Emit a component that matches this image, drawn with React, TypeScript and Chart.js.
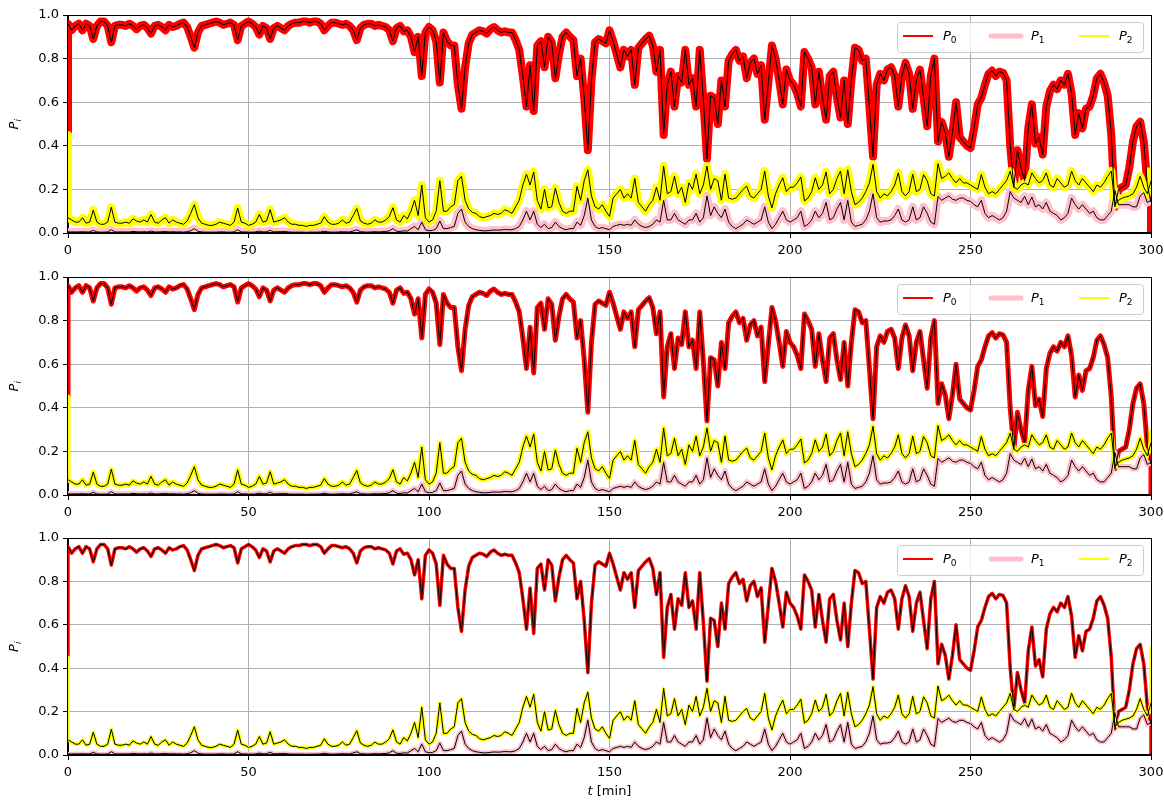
import { useEffect, useRef } from "react";
import { Chart, registerables } from "chart.js";

Chart.register(...registerables);

// Time axis: one sample per minute starting at t = 0.
const T_START = 0;
const T_STEP = 1;

// True occupation probabilities (black traces), t = 0 .. 300 min.
const P0_TRUE = [
  0.96, 0.93, 0.95, 0.96, 0.93, 0.96, 0.95, 0.89, 0.95, 0.97,
  0.97, 0.95, 0.875, 0.95, 0.955, 0.955, 0.95, 0.96, 0.95, 0.935,
  0.95, 0.955, 0.94, 0.915, 0.95, 0.955, 0.945, 0.93, 0.955, 0.945,
  0.95, 0.96, 0.965, 0.945, 0.9, 0.85, 0.92, 0.95, 0.955, 0.96,
  0.965, 0.97, 0.965, 0.955, 0.96, 0.965, 0.955, 0.885, 0.95, 0.96,
  0.97, 0.96, 0.945, 0.91, 0.95, 0.94, 0.89, 0.94, 0.95, 0.94,
  0.93, 0.95, 0.96, 0.965, 0.965, 0.97, 0.97, 0.965, 0.97, 0.97,
  0.96, 0.93, 0.95, 0.965, 0.965, 0.96, 0.955, 0.96, 0.95, 0.93,
  0.885, 0.94, 0.955, 0.96, 0.96, 0.95, 0.955, 0.95, 0.945, 0.93,
  0.88, 0.94, 0.95, 0.925, 0.93, 0.9, 0.83, 0.9, 0.72, 0.92,
  0.945, 0.93, 0.88, 0.69, 0.92, 0.88, 0.86, 0.86, 0.68, 0.57,
  0.76, 0.87, 0.91, 0.92, 0.93, 0.925, 0.915, 0.935, 0.945, 0.93,
  0.92, 0.925, 0.92, 0.92, 0.885, 0.84, 0.72, 0.58, 0.77, 0.56,
  0.86, 0.88, 0.76, 0.9, 0.875, 0.71, 0.82, 0.9, 0.92, 0.9,
  0.885, 0.72, 0.8, 0.62, 0.38, 0.7, 0.875, 0.89, 0.88, 0.87,
  0.93, 0.88, 0.82, 0.76, 0.84, 0.81, 0.84, 0.68, 0.85, 0.87,
  0.89, 0.905, 0.86, 0.74, 0.84, 0.45, 0.68, 0.74, 0.58, 0.72,
  0.69, 0.84, 0.68, 0.71, 0.58, 0.84, 0.61, 0.34, 0.63, 0.62,
  0.5, 0.7, 0.58, 0.79, 0.82, 0.84, 0.79, 0.81, 0.71, 0.78,
  0.8, 0.73, 0.77, 0.52, 0.69, 0.86, 0.8, 0.7, 0.59, 0.75,
  0.7, 0.68, 0.64, 0.58, 0.83, 0.8, 0.76, 0.59, 0.74, 0.62,
  0.52, 0.72, 0.74, 0.62, 0.53, 0.7, 0.5, 0.7, 0.85, 0.84,
  0.79, 0.8, 0.58, 0.35, 0.68, 0.73, 0.7, 0.75, 0.76, 0.72,
  0.58, 0.72, 0.78, 0.73, 0.57, 0.7, 0.75, 0.62, 0.49, 0.72,
  0.8, 0.42, 0.51, 0.46, 0.35, 0.46, 0.6, 0.44, 0.42, 0.4,
  0.39, 0.48, 0.59, 0.62, 0.68, 0.73, 0.745, 0.72, 0.74, 0.735,
  0.7, 0.4, 0.21, 0.38, 0.3, 0.24, 0.48, 0.59, 0.41, 0.44,
  0.36, 0.58, 0.65, 0.68, 0.66, 0.7, 0.68, 0.73, 0.64, 0.45,
  0.55, 0.48, 0.57, 0.58, 0.63, 0.71, 0.73, 0.69, 0.63, 0.45,
  0.12, 0.2, 0.21, 0.22, 0.3, 0.42, 0.49, 0.51, 0.42, 0.22,
  0.14,
];

const P1_TRUE = [
  0.005, 0.005, 0.005, 0.005, 0.006, 0.005, 0.005, 0.012, 0.005, 0.004,
  0.004, 0.005, 0.015, 0.005, 0.005, 0.005, 0.005, 0.005, 0.007, 0.006,
  0.005, 0.006, 0.005, 0.009, 0.005, 0.005, 0.006, 0.007, 0.005, 0.006,
  0.005, 0.005, 0.004, 0.006, 0.01, 0.02, 0.008, 0.005, 0.004, 0.004,
  0.004, 0.004, 0.005, 0.005, 0.004, 0.004, 0.005, 0.015, 0.005, 0.005,
  0.004, 0.004, 0.005, 0.009, 0.005, 0.006, 0.012, 0.005, 0.006, 0.006,
  0.007, 0.005, 0.004, 0.004, 0.004, 0.004, 0.003, 0.004, 0.004, 0.004,
  0.005, 0.008, 0.005, 0.004, 0.004, 0.005, 0.006, 0.005, 0.005, 0.009,
  0.015, 0.006, 0.005, 0.004, 0.005, 0.006, 0.005, 0.006, 0.007, 0.01,
  0.02, 0.008, 0.007, 0.01, 0.009, 0.02, 0.03, 0.015, 0.05, 0.015,
  0.01, 0.012, 0.02, 0.055, 0.02, 0.02, 0.025, 0.03, 0.09, 0.11,
  0.05, 0.03, 0.02, 0.015, 0.012, 0.01, 0.01, 0.012, 0.014, 0.013,
  0.014, 0.016, 0.015, 0.015, 0.02, 0.03, 0.06, 0.1, 0.06, 0.1,
  0.04, 0.025, 0.04, 0.02, 0.025, 0.05, 0.03, 0.02, 0.015, 0.02,
  0.02, 0.05, 0.035, 0.08, 0.16, 0.06, 0.03, 0.02, 0.025, 0.02,
  0.015, 0.03, 0.035, 0.04, 0.035, 0.04, 0.035, 0.06, 0.04, 0.03,
  0.025, 0.03, 0.04, 0.06, 0.05, 0.15, 0.06, 0.06, 0.09, 0.06,
  0.05, 0.04, 0.06, 0.06, 0.09, 0.05, 0.07, 0.17, 0.08, 0.12,
  0.09, 0.07, 0.11, 0.05, 0.03, 0.02, 0.03, 0.04, 0.06, 0.05,
  0.04, 0.05, 0.06, 0.12, 0.05, 0.02, 0.04, 0.07, 0.1, 0.06,
  0.05, 0.06, 0.07, 0.1, 0.03, 0.04, 0.06, 0.1, 0.07, 0.09,
  0.14, 0.06, 0.07, 0.11, 0.14, 0.06, 0.15, 0.05, 0.03, 0.035,
  0.04, 0.06, 0.1, 0.18, 0.07, 0.05, 0.055, 0.055, 0.06, 0.08,
  0.11, 0.06, 0.05, 0.06, 0.12, 0.06, 0.07, 0.12, 0.09, 0.05,
  0.04, 0.168, 0.15, 0.16, 0.17, 0.155, 0.15, 0.16, 0.16, 0.15,
  0.145, 0.13, 0.12, 0.15, 0.09, 0.07, 0.08, 0.07, 0.06, 0.07,
  0.1, 0.19, 0.16, 0.15, 0.14, 0.168, 0.13, 0.165, 0.12, 0.13,
  0.11, 0.14, 0.1, 0.09, 0.08, 0.06, 0.07, 0.09, 0.16, 0.13,
  0.11, 0.13, 0.11, 0.09, 0.1, 0.07, 0.06, 0.06, 0.08, 0.1,
  0.195, 0.13, 0.13, 0.13, 0.13, 0.12, 0.12, 0.17, 0.185, 0.14,
  0.15,
];

const P2_TRUE = [
  0.07, 0.06, 0.05, 0.05, 0.07, 0.045, 0.05, 0.105, 0.05, 0.04,
  0.04, 0.05, 0.118, 0.05, 0.045, 0.045, 0.05, 0.045, 0.065, 0.055,
  0.05, 0.06, 0.05, 0.085, 0.05, 0.045, 0.06, 0.07, 0.045, 0.06,
  0.05, 0.045, 0.04, 0.055, 0.09, 0.13, 0.07, 0.045, 0.04, 0.035,
  0.035, 0.04, 0.05, 0.045, 0.04, 0.035, 0.05, 0.115, 0.05, 0.045,
  0.035, 0.04, 0.05, 0.085, 0.05, 0.055, 0.107, 0.05, 0.055, 0.06,
  0.07, 0.05, 0.04, 0.04, 0.035, 0.035, 0.03, 0.035, 0.035, 0.04,
  0.045, 0.075, 0.05, 0.04, 0.04, 0.045, 0.06, 0.045, 0.05, 0.08,
  0.112, 0.055, 0.045, 0.04, 0.045, 0.06, 0.05, 0.05, 0.06, 0.075,
  0.116, 0.06, 0.05, 0.08, 0.065, 0.1, 0.15, 0.08, 0.22, 0.07,
  0.05, 0.06, 0.1, 0.24, 0.1, 0.1, 0.12, 0.13, 0.24, 0.26,
  0.15, 0.11, 0.095, 0.09, 0.075, 0.07, 0.075, 0.08, 0.09, 0.085,
  0.09, 0.107, 0.1, 0.09, 0.12, 0.15, 0.22, 0.27, 0.22, 0.28,
  0.15, 0.11, 0.2, 0.115, 0.12, 0.206, 0.14, 0.1, 0.09, 0.1,
  0.1, 0.214, 0.15, 0.24, 0.29, 0.17, 0.12, 0.11, 0.13, 0.1,
  0.076, 0.16, 0.18, 0.2, 0.16, 0.18, 0.16, 0.25, 0.14, 0.12,
  0.1, 0.13, 0.15, 0.21, 0.15, 0.307, 0.18, 0.19, 0.26, 0.18,
  0.21, 0.14, 0.23, 0.2, 0.27, 0.18, 0.22, 0.307, 0.2, 0.25,
  0.24, 0.15, 0.27, 0.16, 0.155, 0.16, 0.18, 0.2, 0.215, 0.17,
  0.16, 0.18, 0.2, 0.284, 0.17, 0.115, 0.18, 0.22, 0.253, 0.19,
  0.21, 0.21, 0.23, 0.257, 0.147, 0.16, 0.19, 0.253, 0.2, 0.22,
  0.28, 0.18, 0.2, 0.25, 0.284, 0.18, 0.29, 0.19, 0.13, 0.14,
  0.16, 0.19, 0.23, 0.315, 0.19, 0.16, 0.18, 0.17, 0.19, 0.22,
  0.276, 0.19, 0.17, 0.19, 0.27, 0.19, 0.2, 0.268, 0.24, 0.18,
  0.17, 0.318, 0.25, 0.26, 0.276, 0.25, 0.23, 0.25, 0.23, 0.23,
  0.22, 0.21, 0.2, 0.268, 0.21, 0.18, 0.19, 0.18, 0.2, 0.22,
  0.24, 0.284, 0.21, 0.2, 0.22, 0.23, 0.22, 0.276, 0.25, 0.23,
  0.24, 0.276, 0.22, 0.21, 0.25, 0.23, 0.21, 0.22, 0.284, 0.24,
  0.22, 0.25, 0.23, 0.21, 0.19, 0.22, 0.21, 0.23, 0.26, 0.284,
  0.13, 0.15, 0.16, 0.165, 0.17, 0.18, 0.21, 0.26, 0.21, 0.18,
  0.24,
];

// Filter estimates: initial prior and last estimate for P0, P1, P2.
const ESTIMATE_START = [0.45, 0.0, 0.45];
const ESTIMATE_END_PANEL1 = [0.0, 0.15, 0.3];
const ESTIMATE_END_PANEL2 = [0.0, 0.15, 0.3];
const ESTIMATE_END_PANEL3 = [0.0, 0.15, 0.5];

// Estimate band thickness per panel (noisier estimates drawn wider).
const BAND_PANEL1 = [8, 8, 8];
const BAND_PANEL2 = [5, 5.5, 5];
const BAND_PANEL3 = [3.5, 4.5, 3.5];

const SERIES_SUBSCRIPTS = ["0", "1", "2"];
const SERIES_COLORS = ["#ff0000", "#ffc0cb", "#ffff00"];
const LEGEND_LINE_WIDTHS = [2, 5, 2];

const X_TICKS = [0, 50, 100, 150, 200, 250, 300];
const Y_TICKS = [0.0, 0.2, 0.4, 0.6, 0.8, 1.0];

const FONT = "'DejaVu Sans', sans-serif";
const FONT_SIZE = 13;

type Pt = { x: number; y: number };

function toPoints(values: number[]): Pt[] {
  return values.map((y, i) => ({ x: T_START + i * T_STEP, y }));
}

function estimatePoints(values: number[], start: number, end: number): Pt[] {
  const pts = toPoints(values);
  const last = pts[pts.length - 1].x;
  return [{ x: T_START, y: start }, ...pts, { x: last, y: end }];
}

// Italic symbol with a smaller subscript, e.g. P_0.
function drawMath(
  ctx: CanvasRenderingContext2D,
  base: string,
  sub: string,
  x: number,
  y: number,
  size: number,
  subItalic: boolean
) {
  ctx.font = `italic ${size}px ${FONT}`;
  ctx.textBaseline = "middle";
  ctx.textAlign = "left";
  ctx.fillStyle = "#000";
  ctx.fillText(base, x, y);
  const w = ctx.measureText(base).width;
  const subSize = Math.round(size * 0.7);
  ctx.font = `${subItalic ? "italic " : ""}${subSize}px ${FONT}`;
  ctx.fillText(sub, x + w, y + size * 0.3);
  return w + ctx.measureText(sub).width;
}

const framePlugin = {
  id: "frame",
  afterDatasetsDraw(chart: any) {
    const { ctx, chartArea } = chart;
    ctx.save();
    ctx.strokeStyle = "#000";
    ctx.lineWidth = 1;
    ctx.strokeRect(
      Math.round(chartArea.left) - 0.5,
      Math.round(chartArea.top) + 0.5,
      Math.round(chartArea.right - chartArea.left) + 1,
      Math.round(chartArea.bottom - chartArea.top) - 1
    );
    ctx.restore();
  },
};

const decorPlugin = {
  id: "decor",
  afterDraw(chart: any, _args: any, opts: any) {
    const { ctx, chartArea } = chart;
    ctx.save();

    // Legend box in the upper right corner.
    const boxRight = chartArea.right - 8;
    const boxLeft = chartArea.right - 254;
    const boxTop = chartArea.top + 7;
    const boxH = 30;
    ctx.beginPath();
    ctx.roundRect(boxLeft + 0.5, boxTop + 0.5, boxRight - boxLeft, boxH, 3);
    ctx.fillStyle = "rgba(255,255,255,0.8)";
    ctx.fill();
    ctx.strokeStyle = "#cccccc";
    ctx.lineWidth = 1;
    ctx.stroke();

    const lineY = boxTop + 14;
    for (let i = 0; i < 3; i++) {
      const lx = boxLeft + 6 + i * 88;
      ctx.beginPath();
      ctx.strokeStyle = SERIES_COLORS[i];
      ctx.lineWidth = LEGEND_LINE_WIDTHS[i];
      ctx.lineCap = i === 1 ? "round" : "butt";
      ctx.moveTo(lx, lineY);
      ctx.lineTo(lx + 30, lineY);
      ctx.stroke();
      drawMath(ctx, "P", SERIES_SUBSCRIPTS[i], boxLeft + 46 + i * 88, lineY + 1, FONT_SIZE, false);
    }

    // Y axis title P_i.
    ctx.save();
    ctx.translate(15, (chartArea.top + chartArea.bottom) / 2);
    ctx.rotate(-Math.PI / 2);
    ctx.font = `italic ${FONT_SIZE}px ${FONT}`;
    const pw = ctx.measureText("P").width;
    drawMath(ctx, "P", "i", -(pw + 3) / 2, 0, FONT_SIZE, true);
    ctx.restore();

    // X axis title on the bottom panel only.
    if (opts && opts.xTitle) {
      ctx.font = `italic ${FONT_SIZE}px ${FONT}`;
      const tw = ctx.measureText("t").width;
      ctx.font = `${FONT_SIZE}px ${FONT}`;
      const rest = " [min]";
      const rw = ctx.measureText(rest).width;
      const cx = (chartArea.left + chartArea.right) / 2;
      const x0 = cx - (tw + rw) / 2;
      const y = opts.xTitleY;
      ctx.textBaseline = "middle";
      ctx.textAlign = "left";
      ctx.fillStyle = "#000";
      ctx.font = `italic ${FONT_SIZE}px ${FONT}`;
      ctx.fillText("t", x0, y);
      ctx.font = `${FONT_SIZE}px ${FONT}`;
      ctx.fillText(rest, x0 + tw, y);
    }
    ctx.restore();
  },
};

type PanelSpec = {
  height: number;
  plotHeight: number;
  band: number[];
  end: number[];
  xTitle: boolean;
};

const PANELS: PanelSpec[] = [
  { height: 262, plotHeight: 218, band: BAND_PANEL1, end: ESTIMATE_END_PANEL1, xTitle: false },
  { height: 261, plotHeight: 218, band: BAND_PANEL2, end: ESTIMATE_END_PANEL2, xTitle: false },
  { height: 277, plotHeight: 217, band: BAND_PANEL3, end: ESTIMATE_END_PANEL3, xTitle: true },
];
const PANEL_TOPS = [0, 262, 523];

function buildChart(canvas: HTMLCanvasElement, spec: PanelSpec) {
  const truths = [P0_TRUE, P1_TRUE, P2_TRUE];
  const estimates = truths.map((vals, i) => ({
    label: `P${SERIES_SUBSCRIPTS[i]}`,
    data: estimatePoints(vals, ESTIMATE_START[i], spec.end[i]),
    borderColor: SERIES_COLORS[i],
    borderWidth: spec.band[i],
    order: 3 - i,
  }));
  const blacks = truths.map((vals, i) => ({
    label: `true${i}`,
    data: toPoints(vals),
    borderColor: "#000000",
    borderWidth: 1,
    order: 0,
  }));
  const topPad = 15;
  const xAxisHeight = spec.height - topPad - spec.plotHeight;

  return new Chart(canvas, {
    type: "line",
    data: { datasets: [...blacks, ...estimates] as any },
    options: {
      animation: false,
      responsive: false,
      devicePixelRatio: 1,
      layout: { padding: { left: 0, right: 13, top: topPad, bottom: 0 } },
      elements: {
        point: { radius: 0 },
        line: { tension: 0, borderJoinStyle: "round", borderCapStyle: "butt" },
      },
      plugins: {
        legend: { display: false },
        tooltip: { enabled: false },
        decor: { xTitle: spec.xTitle, xTitleY: 269 },
      } as any,
      scales: {
        x: {
          type: "linear",
          min: 0,
          max: 300,
          afterBuildTicks: (s: any) => {
            s.ticks = X_TICKS.map((v) => ({ value: v }));
          },
          afterFit: (s: any) => {
            s.height = xAxisHeight;
            s.paddingLeft = 0;
            s.paddingRight = 0;
          },
          ticks: {
            color: "#000",
            font: { family: FONT, size: FONT_SIZE },
            padding: 5,
            maxRotation: 0,
            callback: (v: any) => String(v),
          },
          grid: { color: "#b0b0b0", lineWidth: 1, tickColor: "#000", tickLength: 5, drawTicks: true },
          border: { display: true, color: "#000", width: 1 },
        },
        y: {
          type: "linear",
          min: 0,
          max: 1,
          afterBuildTicks: (s: any) => {
            s.ticks = Y_TICKS.map((v) => ({ value: v }));
          },
          afterFit: (s: any) => {
            s.width = 68;
            s.paddingTop = 0;
            s.paddingBottom = 0;
          },
          ticks: {
            color: "#000",
            font: { family: FONT, size: FONT_SIZE },
            padding: 4,
            callback: (v: any) => Number(v).toFixed(1),
          },
          grid: { color: "#b0b0b0", lineWidth: 1, tickColor: "#000", tickLength: 5, drawTicks: true },
          border: { display: true, color: "#000", width: 1 },
        },
      },
    } as any,
    plugins: [framePlugin, decorPlugin],
  });
}

export default function App() {
  const ref0 = useRef<HTMLCanvasElement | null>(null);
  const ref1 = useRef<HTMLCanvasElement | null>(null);
  const ref2 = useRef<HTMLCanvasElement | null>(null);

  useEffect(() => {
    const refs = [ref0, ref1, ref2];
    const charts = refs.map((r, i) => buildChart(r.current as HTMLCanvasElement, PANELS[i]));
    return () => charts.forEach((c) => c.destroy());
  }, []);

  const refs = [ref0, ref1, ref2];
  return (
    <div
      style={{
        position: "absolute",
        left: 0,
        top: 0,
        width: 1164,
        height: 800,
        background: "#ffffff",
        overflow: "hidden",
      }}
    >
      {PANELS.map((p, i) => (
        <canvas
          key={i}
          ref={refs[i]}
          width={1164}
          height={p.height}
          style={{ position: "absolute", left: 0, top: PANEL_TOPS[i], width: 1164, height: p.height }}
        />
      ))}
    </div>
  );
}
